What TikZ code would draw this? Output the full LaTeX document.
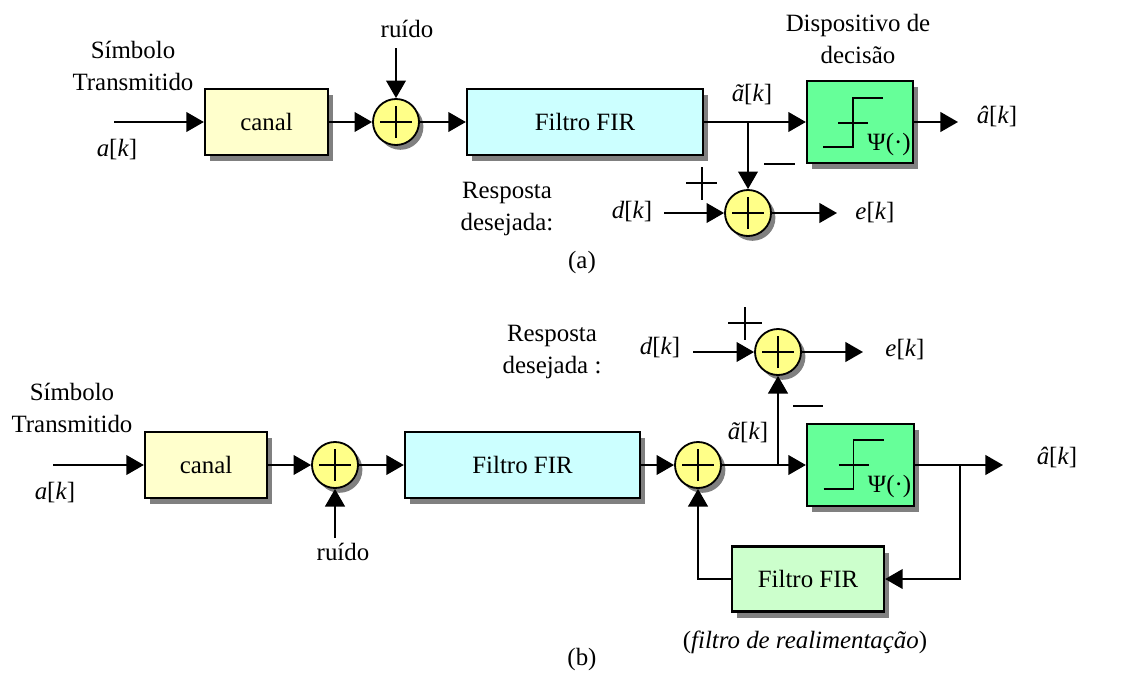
\documentclass[tikz,border=0pt]{standalone}
\usepackage{fontspec}
\setmainfont{Liberation Serif}
\usetikzlibrary{arrows.meta,shadows}
\definecolor{canalyellow}{HTML}{FFFFCC}
\definecolor{firblue}{HTML}{CCFFFF}
\definecolor{decgreen}{HTML}{66FF99}
\definecolor{fbgreen}{HTML}{CCFFCC}
\definecolor{sumyellow}{HTML}{FFFF88}
\definecolor{shadowgray}{HTML}{808080}
\tikzset{
	sig/.style={line width=1.4pt, -{Triangle[length=12.5pt,width=14pt]}},
	wire/.style={line width=1.4pt},
	blk/.style={draw, line width=1.6pt, inner sep=0pt, minimum height=1.65cm,
		drop shadow={shadow xshift=0.125cm, shadow yshift=-0.15cm, fill=shadowgray, opacity=1}},
	sumnode/.style={circle, draw, line width=1.3pt, fill=sumyellow, minimum size=1.15cm, inner sep=0pt,
		drop shadow={shadow xshift=0.11cm, shadow yshift=-0.12cm, fill=shadowgray, opacity=1},
		path picture={
			\draw[line width=1.3pt] ([xshift=-0.4cm]path picture bounding box.center) -- ([xshift=0.4cm]path picture bounding box.center);
			\draw[line width=1.3pt] ([yshift=-0.4cm]path picture bounding box.center) -- ([yshift=0.4cm]path picture bounding box.center);
		}},
	lbl/.style={align=center, inner sep=0pt},
}

\begin{document}
\begin{tikzpicture}[x=0.025cm, y=-0.025cm, font=\fontsize{17.7}{22.8}\selectfont]
	\useasboundingbox (0,0) rectangle (1122,677);

	% (a) linear equalizer
	\node[blk, fill=canalyellow, minimum width=3.075cm] (canalA) at (266.5,122) {canal};
	\node[sumnode] (sumA1) at (396,122) {};
	\node[blk, fill=firblue, minimum width=5.9cm] (firA) at (585,122) {Filtro FIR};
	\node[blk, fill=decgreen, minimum width=2.65cm, minimum height=2.05cm] (decA) at (860,122) {};
	\node[sumnode] (sumA2) at (748,213) {};
	\coordinate (inA) at (114,122);
	\coordinate (noiseA) at (396,48);
	\coordinate (brA) at (748,122);
	\coordinate (outA) at (958,122);
	\coordinate (dA) at (664,213);
	\coordinate (eA) at (837,213);

	\draw[sig] (inA) -- (canalA);
	\draw[sig] (canalA) -- (sumA1);
	\draw[sig] (noiseA) -- (sumA1);
	\draw[sig] (sumA1) -- (firA);
	\draw[sig] (firA) -- (decA);
	\draw[sig] (brA) -- (sumA2);
	\draw[sig] (decA) -- (outA);
	\draw[sig] (dA) -- (sumA2);
	\draw[sig] (sumA2) -- (eA);

	\draw[wire] ([shift={(-37,25)}]decA.center) -- ++(30,0) -- ++(0,-49) -- ++(30,0);
	\draw[wire] ([shift={(-22,1)}]decA.center) -- ++(30,0);
	\node[lbl] (psiA) at ([shift={(29,23)}]decA.center) {Ψ(·)};

	\draw[wire] (764,164) -- (795,164);
	\draw[wire] (686,183) -- (717,183) (702,167) -- (702,200);

	\node[lbl] (symA) at (133,66) {Símbolo\\Transmitido};
	\node[lbl] (akA) at (117,150) {\textit{a}[\textit{k}]};
	\node[lbl] (ruidoA) at (407,29) {ruído};
	\node[lbl] (tildeA) at (752,95) {\textit{ã}[\textit{k}]};
	\node[lbl] (dispA) at (858,39) {Dispositivo de\\decisão};
	\node[lbl] (hatA) at (997,117) {\textit{â}[\textit{k}]};
	\node[lbl] (respA) at (507,209) {Resposta\\desejada:};
	\node[lbl] (dkA) at (632,212) {\textit{d}[\textit{k}]};
	\node[lbl] (ekA) at (875,213) {\textit{e}[\textit{k}]};
	\node[lbl] (capA) at (582,263) {(a)};

	% (b) decision feedback equalizer
	\node[blk, fill=canalyellow, minimum width=3.05cm] (canalB) at (206,465) {canal};
	\node[sumnode] (sumB1) at (335,465) {};
	\node[blk, fill=firblue, minimum width=5.875cm] (firB) at (522.5,465) {Filtro FIR};
	\node[sumnode] (sumB2) at (698,465) {};
	\node[blk, fill=decgreen, minimum width=2.675cm, minimum height=2.05cm] (decB) at (860.5,465) {};
	\node[sumnode] (sumB3) at (778,352) {};
	\node[blk, fill=fbgreen, minimum width=3.8cm, minimum height=1.625cm] (fbB) at (808,579) {Filtro FIR};
	\coordinate (inB) at (53,465);
	\coordinate (noiseB) at (335,538);
	\coordinate (brB1) at (778,465);
	\coordinate (brB2) at (960,465);
	\coordinate (outB) at (1003,465);
	\coordinate (dB) at (693,352);
	\coordinate (eB) at (863,352);

	\draw[sig] (inB) -- (canalB);
	\draw[sig] (canalB) -- (sumB1);
	\draw[sig] (noiseB) -- (sumB1);
	\draw[sig] (sumB1) -- (firB);
	\draw[sig] (firB) -- (sumB2);
	\draw[sig] (sumB2) -- (decB);
	\draw[sig] (brB1) -- (sumB3);
	\draw[sig] (dB) -- (sumB3);
	\draw[sig] (sumB3) -- (eB);
	\draw[sig] (decB) -- (outB);
	\draw[sig] (brB2) |- (fbB);
	\draw[sig] (fbB) -| (sumB2);

	\draw[wire] ([shift={(-37,24)}]decB.center) -- ++(30,0) -- ++(0,-49) -- ++(30,0);
	\draw[wire] ([shift={(-22,0)}]decB.center) -- ++(30,0);
	\node[lbl] (psiB) at ([shift={(29,22)}]decB.center) {Ψ(·)};

	\draw[wire] (793,406) -- (823,406);
	\draw[wire] (728,323) -- (762,323) (745,307) -- (745,340);

	\node[lbl] (symB) at (72,408) {Símbolo\\Transmitido};
	\node[lbl] (akB) at (55,493) {\textit{a}[\textit{k}]};
	\node[lbl] (ruidoB) at (343,552) {ruído};
	\node[lbl] (respB) at (552,352) {Resposta\\desejada :};
	\node[lbl] (dkB) at (660,348) {\textit{d}[\textit{k}]};
	\node[lbl] (ekB) at (905,350) {\textit{e}[\textit{k}]};
	\node[lbl] (tildeB) at (748,433) {\textit{ã}[\textit{k}]};
	\node[lbl] (hatB) at (1057,458) {\textit{â}[\textit{k}]};
	\node[lbl] (fbcap) at (805,642) {(\textit{filtro de realimentação})};
	\node[lbl] (capB) at (582,660) {(b)};
\end{tikzpicture}
\end{document}
